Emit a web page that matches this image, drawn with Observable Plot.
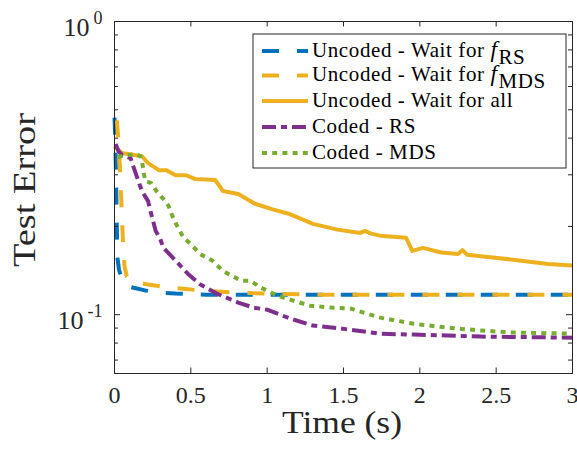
<!DOCTYPE html>
<html><head><meta charset="utf-8">
<script src="https://cdn.jsdelivr.net/npm/d3@7"></script>
<script src="https://cdn.jsdelivr.net/npm/@observablehq/plot@0.6"></script>
<style>body{margin:0;background:#fff;} svg{display:block;}</style>
</head><body><div id="chart"></div>
<script>
// ---- data ----
const xTicks = [0, 0.5, 1, 1.5, 2, 2.5, 3];
const yMajor = [0.1, 1];
const yMinor = [0.07, 0.08, 0.09, 0.2, 0.3, 0.4, 0.5, 0.6, 0.7, 0.8, 0.9];

const tRS = [0, 0.005, 0.01, 0.015, 0.02, 0.03, 0.05, 0.07, 0.1, 0.125, 0.2, 0.29, 0.4, 0.6, 1, 2, 3];
const eRS = [0.47, 0.40, 0.30, 0.20, 0.155, 0.142, 0.132, 0.127, 0.1245, 0.1235, 0.121, 0.119, 0.118, 0.117, 0.117, 0.117, 0.117];

const tMDS = [0.015, 0.025, 0.035, 0.045, 0.055, 0.065, 0.08, 0.1, 0.15, 0.21, 0.3, 0.45, 0.6, 0.8, 1.0, 1.3, 2, 3];
const eMDS = [0.46, 0.40, 0.32, 0.24, 0.18, 0.147, 0.135, 0.131, 0.129, 0.127, 0.125, 0.1225, 0.1205, 0.119, 0.118, 0.117, 0.117, 0.117];

const tAll = [0, 0.046, 0.09, 0.18, 0.22, 0.29, 0.34, 0.40, 0.47, 0.53, 0.66, 0.71, 0.81, 0.92, 1.03, 1.14, 1.30, 1.46, 1.61, 1.64, 1.68, 1.74, 1.91, 1.95, 2.02, 2.14, 2.25, 2.28, 2.31, 2.61, 2.84, 3.0];
const eAll = [0.376, 0.356, 0.353, 0.347, 0.329, 0.311, 0.311, 0.299, 0.299, 0.290, 0.288, 0.264, 0.258, 0.239, 0.229, 0.221, 0.204, 0.195, 0.190, 0.193, 0.189, 0.186, 0.183, 0.165, 0.169, 0.163, 0.161, 0.166, 0.160, 0.154, 0.149, 0.147];

const tCRS = [0.007, 0.026, 0.05, 0.105, 0.14, 0.18, 0.22, 0.24, 0.27, 0.30, 0.32, 0.40, 0.48, 0.56, 0.67, 0.81, 0.91, 1.00, 1.15, 1.30, 1.46, 1.53, 1.74, 1.96, 2.18, 2.40, 3.0];
const eCRS = [0.382, 0.361, 0.35, 0.342, 0.302, 0.264, 0.244, 0.221, 0.193, 0.181, 0.169, 0.153, 0.138, 0.127, 0.118, 0.110, 0.1057, 0.104, 0.097, 0.0918, 0.090, 0.089, 0.0861, 0.0855, 0.0849, 0.0842, 0.0835];

const tCMDS = [0.02, 0.046, 0.14, 0.17, 0.18, 0.20, 0.24, 0.275, 0.32, 0.354, 0.387, 0.41, 0.45, 0.51, 0.56, 0.64, 0.71, 0.83, 0.89, 0.96, 1.07, 1.15, 1.28, 1.42, 1.55, 1.74, 1.96, 2.18, 2.40, 2.61, 3.0];
const eCMDS = [0.345, 0.347, 0.353, 0.347, 0.334, 0.286, 0.281, 0.264, 0.248, 0.235, 0.212, 0.201, 0.184, 0.172, 0.161, 0.153, 0.141, 0.1305, 0.1305, 0.1236, 0.116, 0.1125, 0.1073, 0.1057, 0.1048, 0.0977, 0.0931, 0.0903, 0.0883, 0.0869, 0.0862];

const seriesNames = ["Uncoded - Wait for f_RS", "Uncoded - Wait for f_MDS", "Uncoded - Wait for all", "Coded - RS", "Coded - MDS"];
const colors = ["#0072BD", "#EDB120", "#EDB120", "#7E2F8E", "#77AC30"];
const dashes = ["17,18", "17,18", null, "14,5,6,5", "5,5.2"];

// ---- build ----
const W = 577, H = 449, mL = 114, mR = 5, mT = 21, mB = 76;
const pw = W - mL - mR, ph = H - mT - mB;
const axisColor = "#262626";
const serif = "'Liberation Serif', 'Times New Roman', serif";
const toRows = (t, e) => t.map((v, i) => ({t: v, e: e[i]}));
const series = [toRows(tRS, eRS), toRows(tMDS, eMDS), toRows(tAll, eAll), toRows(tCRS, eCRS), toRows(tCMDS, eCMDS)];

const lineMarks = [2, 0, 1, 3, 4].map(i => Plot.line(series[i], {
  x: "t", y: "e", stroke: colors[i], strokeWidth: 4,
  strokeDasharray: dashes[i] || undefined, strokeLinecap: "butt", strokeLinejoin: "round"
}));

const chart = Plot.plot({
  width: W, height: H,
  marginLeft: mL, marginRight: mR, marginTop: mT, marginBottom: mB,
  style: {fontFamily: serif, fontSize: "24px", color: axisColor, background: "#fff"},
  x: {domain: [0, 3]},
  y: {type: "log", domain: [0.063, 1]},
  marks: [
    ...lineMarks,
    Plot.tickX(xTicks, {x: d => d, insetTop: ph - 5.5, stroke: axisColor, strokeWidth: 1}),
    Plot.tickX(xTicks, {x: d => d, insetBottom: ph - 5.5, stroke: axisColor, strokeWidth: 1}),
    Plot.tickY(yMajor, {y: d => d, insetRight: pw - 6, stroke: axisColor, strokeWidth: 1}),
    Plot.tickY(yMajor, {y: d => d, insetLeft: pw - 6, stroke: axisColor, strokeWidth: 1}),
    Plot.tickY(yMinor, {y: d => d, insetRight: pw - 4, stroke: axisColor, strokeWidth: 1}),
    Plot.tickY(yMinor, {y: d => d, insetLeft: pw - 4, stroke: axisColor, strokeWidth: 1}),
    Plot.frame({stroke: axisColor, strokeWidth: 1}),
    Plot.axisX({ticks: xTicks, tickSize: 0, tickPadding: 12, tickFormat: d => String(d), label: null, fontSize: 24}),
    Plot.axisY({ticks: yMajor, tickSize: 0, tickPadding: 12, tickFormat: d => "10^" + Math.round(Math.log10(d)), label: null, fontSize: 26})
  ]
});
document.getElementById("chart").appendChild(chart);

const svg = d3.select(chart);
// superscripts on y tick labels
svg.selectAll("g[aria-label='y-axis tick label'] text").each(function() {
  const txt = this.textContent;
  const exp = txt.split("^")[1];
  const t = d3.select(this);
  t.text(null);
  t.append("tspan").attr("dy", 6).text("10");
  t.append("tspan").attr("dx", 4).attr("dy", -12).attr("font-size", 18).text(exp);
});

// axis labels
svg.append("text").attr("x", 342).attr("y", 433).attr("text-anchor", "middle")
  .attr("font-size", 31).attr("fill", axisColor).attr("textLength", 120).attr("lengthAdjust", "spacingAndGlyphs").text("Time (s)");
svg.append("text").attr("transform", "translate(35,190) rotate(-90)").attr("text-anchor", "middle")
  .attr("font-size", 32).attr("fill", axisColor).attr("textLength", 154).attr("lengthAdjust", "spacingAndGlyphs").text("Test Error");

// legend
const lg = svg.append("g").attr("text-anchor", "start");
lg.append("rect").attr("x", 253).attr("y", 34).attr("width", 313).attr("height", 134)
  .attr("fill", "#fff").attr("stroke", axisColor).attr("stroke-width", 1);
const rowsY = [51, 75.5, 101, 127, 153];
seriesNames.forEach((name, i) => {
  const y = rowsY[i];
  lg.append("line").attr("x1", 262).attr("x2", 308).attr("y1", y).attr("y2", y)
    .attr("stroke", colors[i]).attr("stroke-width", 4).attr("stroke-dasharray", dashes[i])
    .attr("stroke-linecap", "butt");
  const t = lg.append("text").attr("x", 312).attr("y", y + 5.5).attr("font-size", 21)
    .attr("text-anchor", "start").attr("letter-spacing", 0.6).attr("fill", "#000");
  if (name.includes("f_")) {
    const [pre, sub] = name.split("f_");
    t.append("tspan").text(pre);
    t.append("tspan").attr("font-style", "italic").attr("font-size", 23).text("f");
    t.append("tspan").attr("dy", 7).attr("dx", 1).text(sub);
  } else {
    t.text(name);
  }
});
svg.selectAll("text").style("font-family", serif);
</script>
</body></html>
